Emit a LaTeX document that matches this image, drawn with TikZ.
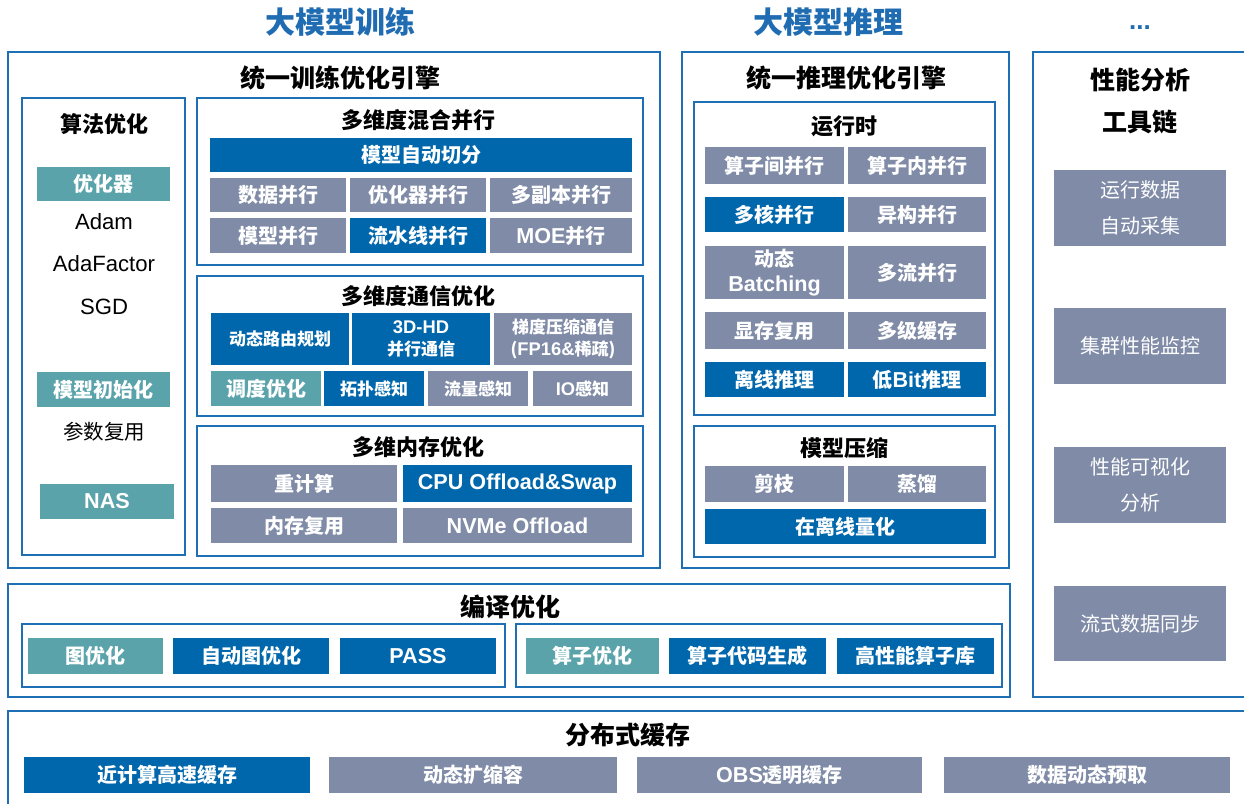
\documentclass[tikz,border=0pt]{standalone}
\usepackage{fontspec}
\setmainfont{Noto Sans CJK SC}
\newfontfamily\lat[Scale=1.08]{Liberation Sans}
\definecolor{dkblue}{HTML}{0067AC}
\definecolor{greyb}{HTML}{7F8BA7}
\definecolor{tealb}{HTML}{5BA3AB}
\definecolor{bordb}{HTML}{1F6FB5}
\definecolor{titleb}{HTML}{1F6CB2}
\newcommand\cellbox[7]{\node[#2, minimum width={(#5-#3)*1pt}, minimum height={(#6-#4)*1pt}] (#1) at ({(#3+#5)/2},{(#4+#6)/2}) {#7};}
\begin{document}
\begin{tikzpicture}[x=1pt,y=-1pt,
  frame/.style={draw=bordb, line width=2.2pt, inner sep=0pt, outer sep=0pt},
  thinframe/.style={draw=bordb, line width=1.6pt, inner sep=0pt, outer sep=0pt},
  cbase/.style={inner sep=0pt, outer sep=0pt, text=white, align=center, font=\fontsize{20}{25}\selectfont\bfseries},
  dk/.style={cbase, fill=dkblue},
  gr/.style={cbase, fill=greyb},
  tl/.style={cbase, fill=tealb},
  sm/.style={font=\fontsize{17}{22}\selectfont\bfseries},
  pf/.style={font=\fontsize{20}{36}\selectfont},
  bigt/.style={text=titleb, font=\fontsize{30}{34}\selectfont\bfseries, inner sep=0pt},
  sect/.style={font=\fontsize{25}{42}\selectfont\bfseries, align=center, inner sep=0pt},
  subt/.style={font=\fontsize{22}{26}\selectfont\bfseries, inner sep=0pt},
  plain/.style={font=\fontsize{20.5}{24}\selectfont, inner sep=0pt}]
\useasboundingbox (0,0) rectangle (1244,803);
\clip (0,0) rectangle (1244,803);
\fill[white] (0,0) rectangle (1244,803);

% top titles
\node[bigt] (t1) at (340,22) {大模型训练};
\node[bigt] (t2) at (828,22) {大模型推理};
\node[bigt, font=\fontsize{24}{30}\selectfont\bfseries\lat] (t3) at (1140,28) {...};

% ===== training =====
\cellbox{train}{frame}{8}{52}{660}{568}{}
\node[sect] (trainT) at (340,78) {统一训练优化引擎};
\cellbox{algo}{thinframe}{22}{98}{185}{555}{}
\node[subt] (algoT) at (104,124) {算法优化};
\cellbox{opt}{tl}{37}{167}{170}{201}{优化器}
\node[plain] (adam) at (104,222) {\lat Adam};
\node[plain] (adaf) at (104,264) {\lat AdaFactor};
\node[plain] (sgd) at (104,307) {\lat SGD};
\cellbox{init}{tl}{37}{372}{170}{407}{模型初始化}
\node[plain] (reuse) at (104,432) {参数复用};
\cellbox{nas}{tl}{40}{484}{174}{519}{\lat NAS}

\cellbox{par}{thinframe}{197}{98}{643}{265}{}
\node[subt] (parT) at (418,120) {多维度混合并行};
\cellbox{auto}{dk}{210}{138}{632}{172}{模型自动切分}
\cellbox{dp}{gr}{210}{178}{346}{212}{数据并行}
\cellbox{op}{gr}{350}{178}{486}{212}{优化器并行}
\cellbox{rp}{gr}{490}{178}{632}{212}{多副本并行}
\cellbox{mp}{gr}{210}{218}{346}{253}{模型并行}
\cellbox{pp}{dk}{350}{218}{486}{253}{流水线并行}
\cellbox{moe}{gr}{490}{218}{632}{253}{{\lat MOE}并行}

\cellbox{comm}{thinframe}{197}{276}{643}{416}{}
\node[subt] (commT) at (418,296) {多维度通信优化};
\cellbox{route}{dk,sm}{211}{313}{349}{365}{动态路由规划}
\cellbox{hd}{dk,sm}{352}{313}{490}{365}{{\lat 3D-HD}\\并行通信}
\cellbox{grad}{gr,sm}{494}{313}{632}{365}{梯度压缩通信\\({\lat FP16\&}稀疏)}
\cellbox{sched}{tl}{211}{371}{321}{406}{调度优化}
\cellbox{topo}{dk,sm}{324}{371}{424}{406}{拓扑感知}
\cellbox{flow}{gr,sm}{428}{371}{528}{406}{流量感知}
\cellbox{io}{gr,sm}{533}{371}{632}{406}{{\lat IO}感知}

\cellbox{mem}{thinframe}{197}{426}{643}{556}{}
\node[subt] (memT) at (418,447) {多维内存优化};
\cellbox{recomp}{gr}{211}{465}{397}{502}{重计算}
\cellbox{cpu}{dk}{403}{465}{632}{502}{\lat CPU Offload\&Swap}
\cellbox{mreuse}{gr}{211}{508}{397}{543}{内存复用}
\cellbox{nvme}{gr}{403}{508}{632}{543}{\lat NVMe Offload}

% ===== inference =====
\cellbox{infer}{frame}{682}{52}{1009}{568}{}
\node[sect] (inferT) at (846,78) {统一推理优化引擎};
\cellbox{rt}{thinframe}{694}{102}{995}{415}{}
\node[subt] (rtT) at (844,126) {运行时};
\cellbox{inter}{gr}{705}{147}{844}{184}{算子间并行}
\cellbox{intra}{gr}{848}{147}{986}{184}{算子内并行}
\cellbox{multi}{dk}{705}{197}{844}{232}{多核并行}
\cellbox{hetero}{gr}{848}{197}{986}{232}{异构并行}
\cellbox{batch}{gr}{705}{246}{844}{299}{动态\\{\lat Batching}}
\cellbox{stream}{gr}{848}{246}{986}{299}{多流并行}
\cellbox{vram}{gr}{705}{312}{844}{349}{显存复用}
\cellbox{cache}{gr}{848}{312}{986}{349}{多级缓存}
\cellbox{offline}{dk}{705}{362}{844}{397}{离线推理}
\cellbox{lowbit}{dk}{848}{362}{986}{397}{低{\lat Bit}推理}

\cellbox{cmp}{thinframe}{694}{426}{995}{557}{}
\node[subt] (cmpT) at (844,448) {模型压缩};
\cellbox{prune}{gr}{705}{466}{844}{502}{剪枝}
\cellbox{distil}{gr}{848}{466}{986}{502}{蒸馏}
\cellbox{quant}{dk}{705}{509}{986}{544}{在离线量化}

% ===== performance =====
\cellbox{perf}{frame}{1033}{52}{1256}{697}{}
\node[sect] (perfT) at (1140,101) {性能分析\\工具链};
\cellbox{collect}{gr,pf}{1054}{170}{1226}{246}{运行数据\\自动采集}
\cellbox{monitor}{gr,pf}{1054}{308}{1226}{384}{集群性能监控}
\cellbox{visual}{gr,pf}{1054}{447}{1226}{523}{性能可视化\\分析}
\cellbox{sync}{gr,pf}{1054}{586}{1226}{661}{流式数据同步}

% ===== compile =====
\cellbox{cmpl}{frame}{8}{584}{1010}{697}{}
\node[sect] (cmplT) at (510,607) {编译优化};
\cellbox{g1}{thinframe}{22}{624}{505}{687}{}
\cellbox{g2}{thinframe}{516}{624}{1002}{687}{}
\cellbox{graph}{tl}{28}{638}{163}{674}{图优化}
\cellbox{autog}{dk}{173}{638}{329}{674}{自动图优化}
\cellbox{pass}{dk}{340}{638}{496}{674}{\lat PASS}
\cellbox{opopt}{tl}{526}{638}{659}{674}{算子优化}
\cellbox{codegen}{dk}{669}{638}{826}{674}{算子代码生成}
\cellbox{oplib}{dk}{837}{638}{994}{674}{高性能算子库}

% ===== distributed cache =====
\cellbox{dist}{frame}{8}{711}{1256}{815}{}
\node[sect] (distT) at (628,735) {分布式缓存};
\cellbox{near}{dk}{24}{757}{310}{793}{近计算高速缓存}
\cellbox{scale}{gr}{329}{757}{617}{793}{动态扩缩容}
\cellbox{obs}{gr}{637}{757}{922}{793}{{\lat OBS}透明缓存}
\cellbox{prefetch}{gr}{944}{757}{1230}{793}{数据动态预取}
\end{tikzpicture}
\end{document}
